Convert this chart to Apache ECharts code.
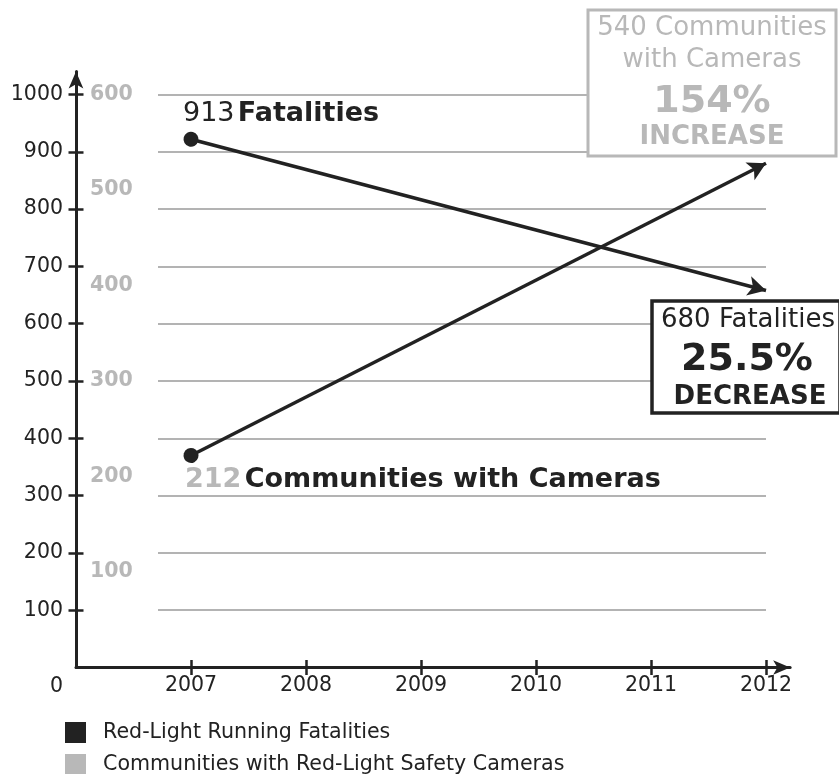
<!DOCTYPE html>
<html>
<head>
<meta charset="utf-8">
<script src="https://cdn.jsdelivr.net/npm/echarts@6/dist/echarts.min.js"></script>
<style>
  html, body { margin: 0; padding: 0; background: #fff; }
  #chart { width: 839px; height: 774px; }
</style>
</head>
<body>
<div id="chart"></div>
<script>
// data
const years = [2007, 2008, 2009, 2010, 2011, 2012]
const fatalTicks = [100, 200, 300, 400, 500, 600, 700, 800, 900, 1000]
const cameraTicks = [100, 200, 300, 400, 500, 600]
const trendYears = [2007, 2012]
const fatalities = [922, 658]
const communities = [222, 528]
const seriesNames = ['Red-Light Running Fatalities', 'Communities with Red-Light Safety Cameras']

const FONT = 'DejaVu Sans'
const DARK = '#222222'
const GRAY = '#b8b8b8'

// y scale: 1000 on the left axis == 600 on the gray axis
const PX = 0.573
const Y_MAX = 1040
const GRAY_MAX = Y_MAX * 0.6
const X_MAX = 2012.21

const chart = echarts.init(document.getElementById('chart'), null, { renderer: 'canvas' })

function trendLine(values) {
  return {
    silent: true,
    animation: false,
    symbol: ['circle', 'arrow'],
    symbolSize: [15, 18],
    label: { show: false },
    lineStyle: { color: DARK, width: 3.5, type: 'solid', opacity: 1 },
    itemStyle: { color: DARK },
    data: [[
      { coord: [trendYears[0], values[0]] },
      { coord: [trendYears[1], values[1]] },
    ]],
  }
}

const crossTick = (inside, values) => ({
  show: true, inside, length: 7.5, customValues: values,
  lineStyle: { color: DARK, width: 2.5 },
})

const option = {
  animation: false,
  backgroundColor: '#fff',
  textStyle: { fontFamily: FONT },
  grid: [
    { left: 76, right: 839 - 76 - 115 * (X_MAX - 2006), top: 667.5 - Y_MAX * PX, bottom: 106.5 },
    { left: 158, right: 73, top: 667.5 - 1000 * PX, bottom: 106.5 },
  ],
  xAxis: [
    {
      type: 'value', gridIndex: 0, min: 2006, max: X_MAX,
      axisLine: { show: true, symbol: ['none', 'arrow'], symbolSize: [11, 17], lineStyle: { color: DARK, width: 3 } },
      axisTick: crossTick(false, years),
      axisLabel: { customValues: years, color: DARK, fontSize: 20.5, margin: 8, formatter: (v) => String(v) },
      splitLine: { show: false },
    },
    {
      type: 'value', gridIndex: 0, min: 2006, max: X_MAX, position: 'bottom',
      axisLine: { show: false },
      axisTick: crossTick(true, years),
      axisLabel: { show: false },
      splitLine: { show: false },
    },
    { type: 'value', gridIndex: 1, min: 0, max: 1, show: false },
  ],
  yAxis: [
    {
      type: 'value', gridIndex: 0, min: 0, max: Y_MAX,
      axisLine: { show: true, symbol: ['none', 'arrow'], symbolSize: [11, 17], lineStyle: { color: DARK, width: 3 } },
      axisTick: crossTick(false, fatalTicks),
      axisLabel: {
        customValues: [0].concat(fatalTicks), color: DARK, fontSize: 20.5, margin: 13,
        formatter: (v) => (v === 0 ? '{z|0}' : String(v)),
        rich: { z: { fontSize: 20.5, color: DARK, padding: [39, 0, 0, 0] } },
      },
      splitLine: { show: false },
    },
    {
      type: 'value', gridIndex: 0, min: 0, max: Y_MAX, position: 'left',
      axisLine: { show: false },
      axisTick: crossTick(true, fatalTicks),
      axisLabel: { show: false },
      splitLine: { show: false },
    },
    {
      type: 'value', gridIndex: 0, min: 0, max: GRAY_MAX, position: 'left',
      axisLine: { show: false },
      axisTick: { show: false },
      axisLabel: {
        inside: true, customValues: cameraTicks, color: GRAY, fontSize: 20.5, fontWeight: 'bold', margin: 14,
      },
      splitLine: { show: false },
    },
    {
      type: 'value', gridIndex: 1, min: 0, max: 1000, interval: 100,
      axisLine: { show: false }, axisTick: { show: false }, axisLabel: { show: false },
      splitLine: { show: true, lineStyle: { color: '#b3b3b3', width: 2 } },
    },
  ],
  legend: {
    left: 65, top: 722, height: 80, orient: 'vertical', icon: 'rect',
    itemWidth: 21, itemHeight: 21, itemGap: 11, padding: 0,
    selectedMode: false,
    textStyle: { fontFamily: FONT, fontSize: 20.6, color: DARK, padding: [0, 0, 0, 12] },
    data: [
      { name: seriesNames[0], itemStyle: { color: DARK } },
      { name: seriesNames[1], itemStyle: { color: GRAY } },
    ],
  },
  series: [
    {
      name: seriesNames[0], type: 'line', xAxisIndex: 0, yAxisIndex: 0,
      color: DARK, showSymbol: false, lineStyle: { opacity: 0 },
      data: trendYears.map((y, i) => [y, fatalities[i]]),
      markLine: trendLine(fatalities),
    },
    {
      name: seriesNames[1], type: 'line', xAxisIndex: 0, yAxisIndex: 2,
      color: GRAY, showSymbol: false, lineStyle: { opacity: 0 },
      data: trendYears.map((y, i) => [y, communities[i]]),
      markLine: trendLine(communities),
    },
  ],
  graphic: [
    {
      type: 'text', z: 100, x: 183, y: 114,
      style: {
        text: '{n|913} {b|Fatalities}', verticalAlign: 'middle', fill: DARK,
        rich: {
          n: { fontFamily: FONT, fontSize: 27, fill: DARK },
          b: { fontFamily: FONT, fontSize: 27, fontWeight: 'bold', fill: DARK },
        },
      },
    },
    {
      type: 'text', z: 100, x: 185, y: 480,
      style: {
        text: '{g|212} {b|Communities with Cameras}', verticalAlign: 'middle',
        rich: {
          g: { fontFamily: FONT, fontSize: 27, fontWeight: 'bold', fill: GRAY },
          b: { fontFamily: FONT, fontSize: 27, fontWeight: 'bold', fill: DARK },
        },
      },
    },
    // gray call-out box
    {
      type: 'rect', z: 100, shape: { x: 588, y: 10, width: 248, height: 146 },
      style: { fill: '#fff', stroke: GRAY, lineWidth: 3 },
    },
    { type: 'text', z: 101, x: 712, y: 28, style: { text: '540 Communities', align: 'center', verticalAlign: 'middle', fontFamily: FONT, fontSize: 26, fill: GRAY } },
    { type: 'text', z: 101, x: 712, y: 60, style: { text: 'with Cameras', align: 'center', verticalAlign: 'middle', fontFamily: FONT, fontSize: 26, fill: GRAY } },
    { type: 'text', z: 101, x: 712, y: 102, style: { text: '154%', align: 'center', verticalAlign: 'middle', fontFamily: FONT, fontSize: 38, fontWeight: 'bold', fill: GRAY } },
    { type: 'text', z: 101, x: 712, y: 137, style: { text: 'INCREASE', align: 'center', verticalAlign: 'middle', fontFamily: FONT, fontSize: 26, fontWeight: 'bold', fill: GRAY } },
    // black call-out box, its right edge runs to the border of the picture
    {
      type: 'rect', z: 100, shape: { x: 652, y: 301, width: 188, height: 112 },
      style: { fill: '#fff', stroke: DARK, lineWidth: 3.5 },
    },
    { type: 'text', z: 101, x: 748, y: 320, style: { text: '680 Fatalities', align: 'center', verticalAlign: 'middle', fontFamily: FONT, fontSize: 26, fill: DARK } },
    { type: 'text', z: 101, x: 747, y: 360, style: { text: '25.5%', align: 'center', verticalAlign: 'middle', fontFamily: FONT, fontSize: 38, fontWeight: 'bold', fill: DARK } },
    { type: 'text', z: 101, x: 750, y: 397, style: { text: 'DECREASE', align: 'center', verticalAlign: 'middle', fontFamily: FONT, fontSize: 26, fontWeight: 'bold', fill: DARK } },
  ],
}

chart.setOption(option)
</script>
</body>
</html>
